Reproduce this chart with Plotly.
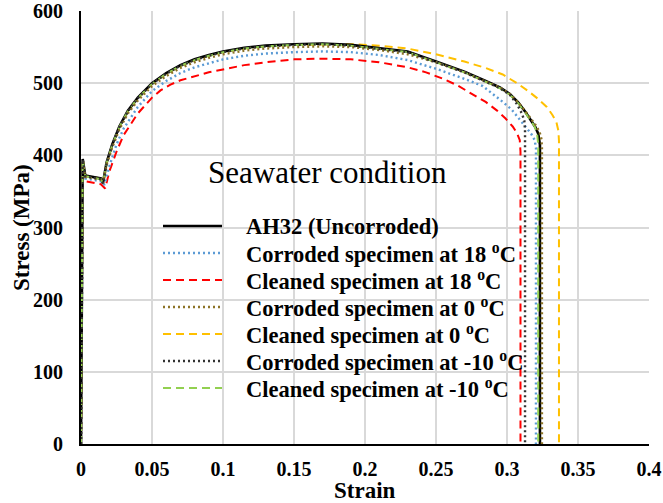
import plotly.graph_objects as go

# ---------------- data ----------------
strain_ah32 = [0, 0.0008, 0.0012, 0.003, 0.008, 0.014, 0.0155, 0.018, 0.022, 0.027, 0.033, 0.04, 0.05,
               0.06, 0.07, 0.08, 0.09, 0.1, 0.115, 0.13, 0.15, 0.17, 0.19, 0.21, 0.23, 0.25, 0.27,
               0.285, 0.295, 0.302, 0.308, 0.313, 0.317, 0.32, 0.322, 0.3232, 0.3232]
stress_ah32 = [0, 300, 395, 372, 370, 368, 362, 390, 415, 440, 462, 480, 500,
               514, 525, 533, 539, 544, 549, 552, 554, 555, 553, 549, 544, 530, 516,
               503, 494, 485, 473, 460, 448, 439, 430, 415, 0]

strain_cor18 = [0, 0.0008, 0.0012, 0.003, 0.008, 0.014, 0.0165, 0.02, 0.025, 0.03, 0.04, 0.05,
                0.06, 0.07, 0.08, 0.09, 0.1, 0.115, 0.13, 0.15, 0.17, 0.19, 0.21, 0.23, 0.25, 0.27,
                0.283, 0.297, 0.303, 0.308, 0.313, 0.317, 0.3195, 0.3204, 0.3204]
stress_cor18 = [0, 300, 392, 368, 366, 364, 359, 385, 415, 437, 467, 489,
                503, 514, 522, 528, 533, 538, 541, 543, 544, 543, 539, 532, 520, 506,
                496, 474, 464, 452, 440, 430, 421, 410, 0]

strain_cln18 = [0, 0.0008, 0.0012, 0.003, 0.008, 0.014, 0.017, 0.02, 0.025, 0.03, 0.04, 0.05,
                0.056, 0.063, 0.07, 0.08, 0.09, 0.1, 0.115, 0.13, 0.15, 0.17, 0.19, 0.21, 0.23,
                0.243, 0.255, 0.265, 0.275, 0.285, 0.293, 0.299, 0.304, 0.307, 0.309, 0.3095, 0.3095]
stress_cln18 = [0, 300, 388, 364, 362, 360, 354, 378, 405, 428, 458, 480,
                490, 498, 504, 510, 515, 519, 525, 529, 533, 534, 533, 529, 522,
                515, 506, 497, 486, 474, 462, 451, 440, 431, 421, 405, 0]

strain_cor0 = [0, 0.0008, 0.0012, 0.003, 0.008, 0.014, 0.0155, 0.018, 0.022, 0.027, 0.033, 0.04, 0.05,
               0.06, 0.07, 0.08, 0.09, 0.1, 0.115, 0.13, 0.15, 0.17, 0.19, 0.21, 0.23, 0.25, 0.27,
               0.285, 0.295, 0.302, 0.308, 0.313, 0.317, 0.3205, 0.323, 0.3243, 0.3246, 0.3246]
stress_cor0 = [0, 300, 393, 370, 368, 366, 361, 387, 411, 436, 458, 476, 496,
               510, 521, 529, 535, 540, 545, 548, 550, 551, 550, 546, 540, 529, 515,
               503, 494, 485, 473, 461, 450, 441, 432, 422, 410, 0]

strain_cln0 = [0, 0.0008, 0.0012, 0.003, 0.008, 0.014, 0.0155, 0.018, 0.022, 0.027, 0.033, 0.04, 0.05,
               0.06, 0.07, 0.08, 0.09, 0.1, 0.115, 0.13, 0.15, 0.17, 0.19, 0.21, 0.23, 0.25, 0.27,
               0.285, 0.297, 0.307, 0.315, 0.322, 0.328, 0.332, 0.3348, 0.3362, 0.3366, 0.3366]
stress_cln0 = [0, 300, 395, 372, 370, 368, 362, 389, 414, 439, 461, 479, 499,
               513, 524, 532, 538, 543, 548, 551, 553, 554, 554, 552, 548, 540, 530,
               521, 512, 500, 489, 478, 467, 456, 446, 434, 420, 0]

strain_cor10 = [0, 0.0008, 0.0012, 0.003, 0.008, 0.014, 0.0155, 0.018, 0.022, 0.027, 0.033, 0.04, 0.05,
                0.06, 0.07, 0.08, 0.09, 0.1, 0.115, 0.13, 0.15, 0.17, 0.19, 0.21, 0.23, 0.25, 0.27,
                0.285, 0.295, 0.302, 0.307, 0.3105, 0.3122, 0.3127, 0.3127]
stress_cor10 = [0, 300, 394, 371, 369, 367, 361, 389, 414, 439, 461, 479, 499,
                513, 524, 532, 538, 543, 548, 551, 553, 554, 552, 548, 543, 529, 515,
                502, 493, 484, 471, 458, 448, 435, 0]

strain_cln10 = [0, 0.0008, 0.0012, 0.003, 0.008, 0.014, 0.0155, 0.018, 0.022, 0.027, 0.033, 0.04, 0.05,
                0.06, 0.07, 0.08, 0.09, 0.1, 0.115, 0.13, 0.15, 0.17, 0.19, 0.21, 0.23, 0.25, 0.27,
                0.285, 0.295, 0.302, 0.308, 0.313, 0.317, 0.3195, 0.3212, 0.322, 0.322]
stress_cln10 = [0, 300, 394, 371, 369, 367, 362, 389, 414, 439, 461, 479, 499,
                513, 524, 532, 538, 543, 548, 551, 553, 554, 552, 548, 543, 529, 515,
                502, 493, 484, 472, 459, 448, 440, 430, 415, 0]

series_names = [
    "AH32 (Uncorroded)",
    "Corroded specimen at 18 <sup>o</sup>C",
    "Cleaned specimen at 18 <sup>o</sup>C",
    "Corroded specimen at 0 <sup>o</sup>C",
    "Cleaned specimen at 0 <sup>o</sup>C",
    "Corroded specimen at -10 <sup>o</sup>C",
    "Cleaned specimen at -10 <sup>o</sup>C",
]

x_ticks = [0, 0.05, 0.1, 0.15, 0.2, 0.25, 0.3, 0.35, 0.4]
x_tick_labels = ["0", "0.05", "0.1", "0.15", "0.2", "0.25", "0.3", "0.35", "0.4"]
y_ticks = [0, 100, 200, 300, 400, 500, 600]
y_tick_labels = ["0", "100", "200", "300", "400", "500", "600"]

# ---------------- styles ----------------
DOT = "2px,3px"
DASH = "8px,5px"
styles = [
    dict(color="#000000", width=2.6, dash="solid"),
    dict(color="#5B9BD5", width=2.4, dash=DOT),
    dict(color="#FF0000", width=2.0, dash=DASH),
    dict(color="#8C7326", width=2.4, dash=DOT),
    dict(color="#FFC000", width=2.0, dash=DASH),
    dict(color="#333333", width=2.4, dash=DOT),
    dict(color="#92D050", width=2.0, dash=DASH),
]
data = [
    (strain_ah32, stress_ah32),
    (strain_cor18, stress_cor18),
    (strain_cln18, stress_cln18),
    (strain_cor0, stress_cor0),
    (strain_cln0, stress_cln0),
    (strain_cor10, stress_cor10),
    (strain_cln10, stress_cln10),
]

FONT = "Liberation Serif, Times New Roman, serif"

fig = go.Figure()
order = [2, 1, 4, 0, 6, 3, 5]
for i in order:
    xs, ys = data[i]
    fig.add_trace(go.Scatter(x=xs, y=ys, mode="lines", name=series_names[i],
                             line=dict(color=styles[i]["color"], width=styles[i]["width"],
                                       dash=styles[i]["dash"]),
                             showlegend=False, hoverinfo="skip"))

# plot-area geometry (pixels) used to place the hand-drawn legend and titles
L, R, T, B = 81, 649, 11, 444
W, H = R - L, B - T
def px(xp):
    return (xp - L) / W
def py(yp):
    return (B - yp) / H

shapes = []
annotations = []
row_y = [226, 253, 280, 307, 334, 361, 388]
for i, name in enumerate(series_names):
    yy = py(row_y[i])
    shapes.append(dict(type="line", xref="paper", yref="paper",
                       x0=px(163), x1=px(222), y0=yy, y1=yy,
                       line=dict(color=styles[i]["color"], width=styles[i]["width"],
                                 dash=styles[i]["dash"])))
    annotations.append(dict(xref="paper", yref="paper", x=px(244), y=yy,
                            xanchor="left", yanchor="middle", showarrow=False,
                            text="<b>" + name + "</b>",
                            font=dict(family=FONT, size=22.5, color="#000000")))

annotations.append(dict(xref="paper", yref="paper", x=px(327), y=py(172),
                        xanchor="center", yanchor="middle", showarrow=False,
                        text="Seawater condition",
                        font=dict(family=FONT, size=31, color="#000000")))
annotations.append(dict(xref="paper", yref="paper", x=px(22), y=py(228),
                        xanchor="center", yanchor="middle", showarrow=False,
                        text="<b>Stress (MPa)</b>", textangle=-90,
                        font=dict(family=FONT, size=23, color="#000000")))
annotations.append(dict(xref="paper", yref="paper", x=px(365), y=py(490),
                        xanchor="center", yanchor="middle", showarrow=False,
                        text="<b>Strain</b>",
                        font=dict(family=FONT, size=23, color="#000000")))

axis_common = dict(showgrid=True, gridcolor="#D9D9D9", gridwidth=1.6, zeroline=False,
                   showline=True, linecolor="#000000", linewidth=2,
                   ticks="outside", ticklen=0, automargin=False,
                   tickfont=dict(family=FONT, size=20, color="#000000", weight="bold"))

fig.update_layout(
    width=663, height=503,
    margin=dict(l=L, r=663 - R, t=T, b=503 - B, autoexpand=False),
    paper_bgcolor="white", plot_bgcolor="white",
    showlegend=False,
    xaxis=dict(range=[0, 0.4], tickmode="array", tickvals=x_ticks, ticktext=x_tick_labels,
               ticklabelstandoff=6, **axis_common),
    yaxis=dict(range=[0, 600], tickmode="array", tickvals=y_ticks, ticktext=y_tick_labels,
               ticklabelstandoff=12, **axis_common),
    shapes=shapes,
    annotations=annotations,
)

fig.write_html("out.html")
